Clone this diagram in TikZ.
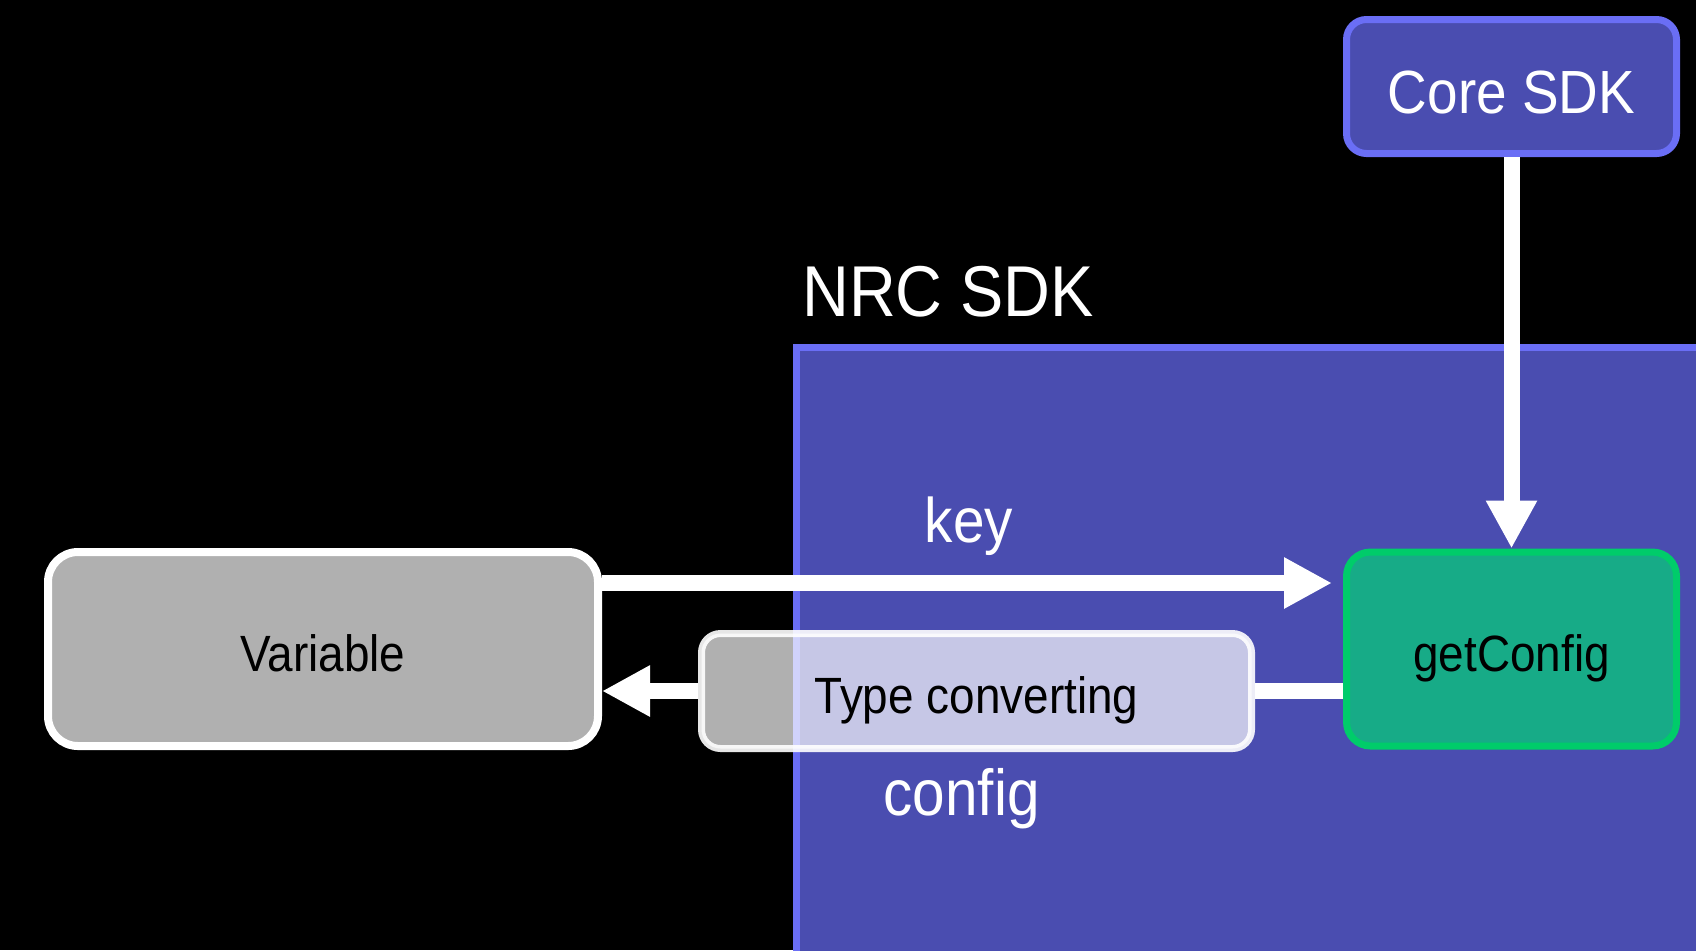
\documentclass[tikz,border=0pt]{standalone}
\usepackage{fontspec}
\setmainfont{Liberation Sans}[FakeStretch=0.9]
\usetikzlibrary{arrows.meta}
\definecolor{nrcfill}{HTML}{4A4DB0}
\definecolor{nrcline}{HTML}{6A6EF5}
\definecolor{cfgfill}{HTML}{17AB87}
\definecolor{cfgline}{HTML}{00CC6A}
\definecolor{varfill}{HTML}{B0B0B0}
\begin{document}
\begin{tikzpicture}[x=0.5pt,y=-0.5pt,
  box/.style={rectangle, inner sep=0pt, text depth=0pt, align=center},
  corebox/.style={box, fill=nrcfill, draw=nrcline, line width=3.5pt, rounded corners=10pt,
    minimum width=165pt, minimum height=67pt, text=white, text height=27pt,
    font=\fontsize{30.5pt}{30.5pt}\selectfont},
  cfgbox/.style={box, fill=cfgfill, draw=cfgline, line width=3.5pt, rounded corners=12pt,
    minimum width=165pt, minimum height=97pt, text=black, text height=22.6pt,
    font=\fontsize{25.5pt}{25.5pt}\selectfont},
  varbox/.style={box, fill=varfill, draw=white, line width=4pt, rounded corners=15pt,
    minimum width=275pt, minimum height=97pt, text=black, text height=22.6pt,
    font=\fontsize{25.5pt}{25.5pt}\selectfont},
  tcbox/.style={box, fill=white, fill opacity=0.69, draw=white, draw opacity=0.9, text opacity=1,
    line width=3.5pt, rounded corners=9.5pt,
    minimum width=275pt, minimum height=57.5pt, text=black, text height=22.6pt,
    font=\fontsize{25.5pt}{25.5pt}\selectfont},
  lbl/.style={inner sep=0pt, text=white},
  wire/.style={draw=white, line width=8pt},
  arr/.style={wire, -{Triangle[length=24pt,width=24pt]}}
]
\fill[black] (0,0) rectangle (1696,950);
\useasboundingbox (0,0) rectangle (1696,950);
% NRC SDK region
\filldraw[fill=nrcfill, draw=nrcline, line width=3.5pt] (796.5,347.5) rectangle (1730,980);
\node[lbl, anchor=base west, font=\fontsize{36pt}{36pt}\selectfont] (nrc) at (802,316) {NRC SDK};
% boxes
\node[corebox] (core) at (1511.5,86.5) {Core SDK};
\node[cfgbox] (cfg) at (1511.5,649) {getConfig};
\node[varbox] (var) at (323,649) {Variable};
\node[tcbox] (tc) at (976.5,691) {Type converting};
% labels
\node[lbl, anchor=base, font=\fontsize{31.5pt}{31.5pt}\selectfont] (keylbl) at (969,542) {key};
\node[lbl, anchor=base, font=\fontsize{32.5pt}{32.5pt}\selectfont] (cfglbl) at (961.5,815) {config};
% connectors
\coordinate (keyy) at (0,583);
\draw[arr] (core.south) -- (cfg.north);
\draw[arr, shorten >=5.5pt] (var.east |- keyy) -- (cfg.west |- keyy);
\draw[wire] (cfg.west |- tc.east) -- (tc.east);
\draw[arr] (tc.west) -- (var.east |- tc.west);
\end{tikzpicture}
\end{document}
